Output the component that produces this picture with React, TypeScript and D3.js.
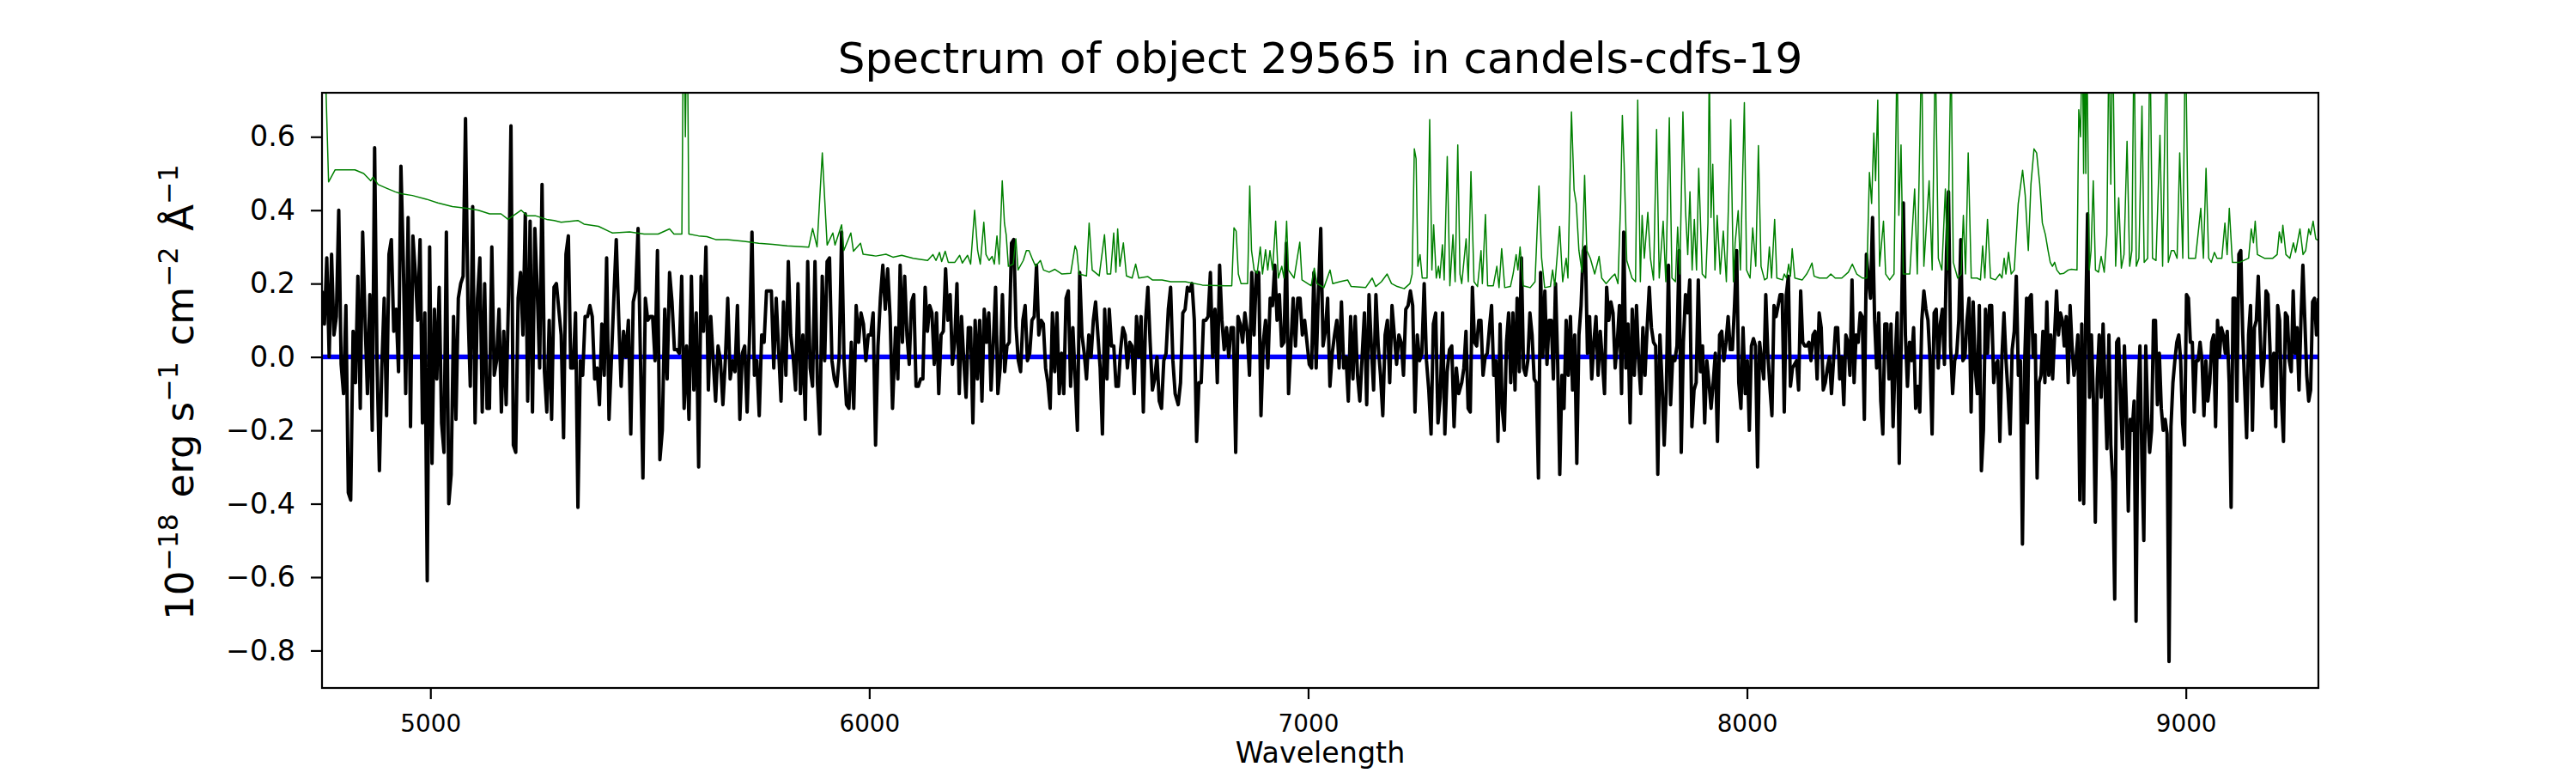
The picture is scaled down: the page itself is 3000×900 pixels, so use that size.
import * as d3 from 'd3';
import { useRef, useEffect } from 'react';

type Pt = [number, number];

const fluxA = [0.18,0.09,0.27,0.00,0.28,0.06,0.11,0.40,-0.02,-0.10,0.14,-0.37,-0.39,0.07,-0.07,0.22,-0.14,0.34,0.10,-0.10,0.17,-0.20,0.57,-0.01,-0.31,-0.03,0.16,-0.16,0.28,0.32,0.07,0.13,-0.04,0.52,0.26,-0.10,0.38,-0.19,0.33,0.23,0.10,0.32,-0.18,0.12,-0.61,0.30,-0.29,0.13,-0.06,0.19,-0.18,-0.26,0.34,-0.40,-0.32,0.11,-0.17,0.16,0.20,0.22,0.65,0.14,-0.08,0.41,-0.18,0.16,0.27,-0.15,0.20,-0.14,-0.14,0.30,-0.05,-0.01,0.13,-0.15,0.07,-0.13,0.17,0.63,-0.24,-0.26,0.16,0.23,0.06,0.39,-0.12,0.37,-0.15,0.35,0.18,-0.03,0.47,-0.04,-0.15,0.10,-0.17,0.19,0.20,0.13,0.06,-0.22,0.28,0.33,-0.03,-0.03,0.12,-0.41,-0.01,-0.05,0.11,0.11,0.14,0.11,-0.06,-0.03,-0.13,0.09,-0.05,0.27,-0.17];
const fluxB = [0.16,0.32,0.11,-0.08,0.07,0.00,0.10,-0.21,0.15,0.18,0.35,-0.01,-0.33,0.16,0.10,0.11,0.11,-0.01,0.29,-0.28,-0.20,0.13,-0.06,0.23,0.15,0.02,0.02,0.01,0.22,-0.14,0.03,-0.17,0.22,-0.09,0.12,-0.30,0.22,0.07,0.30,-0.09,0.11,-0.01,-0.12,0.03,-0.01,-0.13,-0.01,0.16,-0.06,-0.01,-0.04,0.14,-0.17,0.01,0.03,-0.15,0.06,0.34,-0.05,-0.01,-0.16,0.06,0.04,0.18,0.18,0.18,-0.03,0.16,0.02,-0.12,0.15,-0.05,0.26,0.06,0.00,-0.09,0.20,-0.10,0.06,-0.17,0.26,-0.03,-0.08,0.26,-0.07,-0.21,0.22,-0.01,0.26,0.27,-0.01,-0.06,-0.08,0.00,0.34,-0.01,-0.13,-0.14,0.04,-0.14,0.14,0.04,0.12,0.09,-0.01,0.06,0.06,0.12,-0.24,0.03,0.16,0.25,0.13,0.24,0.11,-0.14];
const fluxC = [0.08,-0.06,0.25,0.04,0.22,0.06,-0.02,0.15,0.17,-0.08,-0.08,-0.06,-0.06,0.19,0.07,0.14,0.12,-0.02,0.12,-0.10,0.06,0.07,0.24,0.10,0.17,-0.02,0.04,0.20,-0.10,0.11,-0.01,-0.11,0.08,0.08,-0.18,0.10,-0.06,0.10,-0.12,0.13,0.04,0.12,-0.09,0.04,0.19,-0.10,-0.03,0.17,-0.04,0.03,0.04,0.31,0.32,0.08,-0.01,-0.04,0.10,0.14,-0.01,0.01,0.10,0.11,0.25,0.06,0.10,0.09,-0.03,-0.07,-0.14,0.12,-0.04,0.12,-0.10,0.01,-0.10,0.16,0.18,-0.08,0.08,-0.06,-0.20,0.23,0.06,0.01,-0.06,0.06,0.00,0.10,0.15,0.06,-0.03,-0.21,0.13,-0.06,0.13,0.03,0.03,-0.08,-0.08,0.02,0.08,0.06,-0.03,0.04,0.03,-0.10,0.11,0.00,0.11,-0.15,0.10,0.19,0.04,-0.09,-0.06,0.00,-0.12,-0.14,-0.01,0.01,0.13,0.19,-0.01,-0.10];
const fluxD = [-0.13,-0.07,0.12,0.13,0.19,0.18,0.20,0.10,-0.23,-0.07,-0.07,0.10,0.10,0.11,0.23,0.00,0.13,-0.07,0.25,0.10,0.02,0.08,0.00,0.08,0.08,-0.26,0.11,0.09,0.04,0.12,0.07,-0.05,0.23,0.06,0.23,0.23,-0.16,0.04,0.10,-0.03,0.16,0.14,0.25,0.10,0.17,0.03,0.04,0.31,-0.10,0.03,0.16,0.03,0.16,0.16,0.06,0.10,0.04,-0.02,-0.03,0.23,-0.03,0.18,0.35,0.03,0.07,0.16,-0.08,0.01,0.06,0.10,-0.03,0.15,-0.03,0.00,-0.12,0.11,-0.06,0.11,-0.05,-0.12,0.00,0.12,-0.13,0.17,0.03,-0.09,0.17,0.03,-0.05,-0.16,0.06,0.10,-0.07,0.14,0.06,-0.02,0.06,0.04,-0.05,0.13,0.14,0.18,0.14,-0.15,0.06,-0.01,0.01,0.20,-0.01,-0.09,-0.21,0.09,0.12,-0.18,-0.11,0.12,-0.21,-0.04,0.02,0.03,-0.19,-0.03,-0.10];
const fluxE = [-0.07,-0.03,0.07,-0.14,-0.15,0.19,0.04,0.03,0.10,0.10,-0.05,0.00,0.01,0.08,0.14,-0.05,-0.01,-0.23,0.09,-0.14,-0.20,0.04,0.12,-0.07,0.12,-0.09,0.16,-0.04,0.27,-0.03,-0.05,-0.01,0.12,0.06,-0.06,-0.07,-0.33,0.23,0.00,0.18,-0.02,0.10,0.10,-0.06,0.20,-0.01,-0.32,-0.05,-0.14,0.10,-0.05,0.11,-0.09,0.06,-0.29,0.06,0.14,0.29,0.30,0.01,0.11,-0.06,0.04,0.11,-0.05,0.07,-0.01,-0.10,0.19,0.10,0.15,0.12,-0.03,0.04,0.14,-0.10,0.34,-0.03,0.09,-0.18,0.13,-0.05,0.14,-0.01,-0.10,0.08,-0.05,0.08,0.19,0.08,0.04,0.03,-0.32,0.06,-0.07,-0.24,-0.09,0.25,-0.13,0.00,-0.01,0.03,0.29,-0.26,0.04,0.17,0.12,0.21,-0.19,-0.09,-0.07,0.21,-0.04,0.03,-0.18,-0.01,-0.07,-0.14,-0.07,0.01,-0.23,0.06,0.07,-0.01,0.04,0.11,0.02,0.02,0.14,0.29,-0.07,-0.14,0.08];
const fluxF = [-0.10,-0.01,-0.20,0.03,0.05,0.03,-0.30,0.04,-0.01,-0.06,0.17,0.01,-0.08,-0.16,0.14,0.11,0.14,0.17,0.17,-0.15,0.17,0.22,-0.08,-0.03,-0.02,-0.01,-0.09,0.18,0.04,0.03,0.03,0.04,-0.01,0.06,0.07,-0.06,0.12,0.08,-0.09,-0.07,-0.03,0.00,-0.10,-0.01,0.08,0.08,-0.06,0.00,-0.13,0.06,0.04,-0.05,0.21,-0.07,0.06,0.04,0.12,0.11,-0.17,0.28,0.21,0.16,0.38,0.10,-0.03,0.12,-0.12,-0.21,0.09,0.09,-0.06,0.09,-0.19,-0.01,0.12,-0.29,0.06,0.42,0.06,-0.08,0.04,-0.01,0.08,-0.14,-0.08,-0.15,0.10,0.18,0.13,0.10,-0.01,-0.21,0.12,0.13,-0.03,0.09,0.13,-0.02,0.28,0.45,0.03,-0.10,-0.01,0.01,0.10,0.32,-0.01,0.00,0.10,0.16,-0.15,0.15,-0.03,-0.10,0.14,-0.31,-0.20,0.13,0.01,0.14,0.14,-0.07,-0.02,-0.01,-0.23,0.00,0.12,-0.01,-0.10,-0.21,0.02,0.07,0.22,-0.05,-0.01,-0.51,-0.03,0.16];
const fluxG = [-0.18,0.16,0.17,0.00,0.06,-0.33,-0.07,-0.05,0.07,-0.07,0.15,-0.05,0.06,-0.06,0.06,0.18,0.06,0.12,0.10,0.03,0.11,-0.07,0.14,0.03,-0.05,-0.01,0.06,-0.39,0.09,-0.40,0.09,0.39,-0.11,0.06,-0.11,-0.45,-0.06,0.06,-0.11,0.09,-0.08,-0.25,0.06,-0.24,-0.34,-0.66,0.04,0.05,-0.12,-0.25,0.03,-0.14,-0.42,-0.17,-0.20,-0.12,-0.72,-0.11,0.03,-0.28,-0.50,0.03,-0.16,-0.26,-0.20,0.10,0.10,-0.13,0.01,-0.14,-0.20,-0.17,-0.21,-0.83,-0.19,-0.07,-0.01,0.04,0.06,-0.01,-0.18,-0.24,0.17,0.16,0.04,0.04,-0.15,-0.01,-0.01,0.04,-0.01,-0.16,-0.01,-0.12,-0.07,0.04,0.06,-0.19,0.10,0.00,0.08,0.06,0.01,0.07,-0.07,-0.41,0.16,0.16,-0.12,0.28,0.29,0.06,-0.08,-0.22,0.06,0.14,-0.20,0.08,0.10,0.22,0.06,-0.08,-0.01,0.18,0.17,0.03,-0.14,0.01,-0.19,0.14,0.10,-0.12,-0.23,0.12,0.11,-0.01,-0.04,0.18,0.01,0.08,-0.09,0.10,0.25,0.10,-0.05,-0.12,-0.09,0.15,0.16,0.06,0.16];

const fluxSegments = [
    { start: 4753, end: 5407, values: fluxA },
    { start: 5418, end: 6053, values: fluxB },
    { start: 6060, end: 6697, values: fluxC },
    { start: 6704, end: 7343, values: fluxD },
    { start: 7350, end: 7991, values: fluxE },
    { start: 7996, end: 8637, values: fluxF },
    { start: 8639, end: 9302, values: fluxG },
];

// Noise spectrum (green), [wavelength, value]
const errA: Pt[] = [[4753,1.3],[4758,0.9],[4768,0.477],[4783,0.51],[4809,0.51],[4828,0.51],[4848,0.50],[4864,0.48],[4869,0.49],[4881,0.47],[4900,0.46],[4920,0.45],[4933,0.445],[4959,0.44],[4991,0.43],[5017,0.42],[5050,0.41],[5083,0.405],[5109,0.40],[5135,0.39],[5161,0.39],[5177,0.375],[5207,0.40],[5220,0.385],[5239,0.385],[5265,0.375],[5282,0.372],[5298,0.367],[5336,0.372],[5350,0.362],[5383,0.356],[5409,0.341]];
const errB: Pt[] = [[5415,0.338],[5454,0.341],[5487,0.335],[5519,0.335],[5545,0.349],[5555,0.335],[5573,0.335],[5577,1.0],[5581,0.6],[5585,1.0],[5589,0.335],[5611,0.33],[5630,0.328],[5650,0.32],[5676,0.32],[5715,0.315],[5748,0.31],[5780,0.307],[5813,0.303],[5862,0.299],[5871,0.35],[5881,0.30],[5893,0.556],[5898,0.44],[5904,0.305],[5917,0.338],[5922,0.305],[5937,0.36],[5942,0.29],[5958,0.338],[5964,0.288],[5980,0.31],[5986,0.28],[6015,0.275],[6038,0.28],[6054,0.272]];
const errC: Pt[] = [[6074,0.277],[6100,0.269],[6133,0.263],[6145,0.279],[6152,0.263],[6160,0.285],[6165,0.26],[6173,0.288],[6180,0.258],[6195,0.258],[6206,0.277],[6212,0.256],[6224,0.277],[6231,0.253],[6240,0.40],[6247,0.29],[6253,0.253],[6261,0.367],[6266,0.279],[6273,0.263],[6280,0.274],[6285,0.253],[6291,0.33],[6296,0.253],[6303,0.48],[6308,0.365],[6312,0.333],[6317,0.247],[6328,0.253],[6334,0.322],[6339,0.237],[6351,0.263],[6358,0.29],[6364,0.29],[6371,0.269],[6379,0.247],[6390,0.263],[6397,0.237],[6410,0.231],[6423,0.239],[6439,0.226],[6459,0.228],[6469,0.303],[6473,0.29],[6478,0.226],[6495,0.221],[6501,0.365],[6508,0.237],[6524,0.221],[6536,0.333],[6542,0.226],[6550,0.226],[6557,0.338],[6562,0.231],[6566,0.349],[6571,0.247],[6579,0.311],[6586,0.221],[6599,0.215],[6607,0.253],[6614,0.215],[6635,0.219],[6645,0.21],[6667,0.21],[6687,0.205]];
const errD: Pt[] = [[6720,0.205],[6759,0.196],[6811,0.194],[6826,0.194],[6831,0.352],[6836,0.343],[6841,0.226],[6847,0.20],[6862,0.20],[6867,0.466],[6871,0.29],[6877,0.237],[6884,0.228],[6891,0.30],[6896,0.226],[6903,0.292],[6908,0.237],[6913,0.29],[6919,0.237],[6926,0.37],[6932,0.215],[6940,0.247],[6945,0.215],[6951,0.37],[6955,0.237],[6968,0.215],[6981,0.313],[6986,0.21],[7007,0.194],[7014,0.242],[7020,0.20],[7036,0.189],[7050,0.237],[7056,0.20],[7072,0.205],[7090,0.21],[7098,0.192],[7131,0.189],[7146,0.215],[7154,0.192],[7167,0.205],[7180,0.226],[7190,0.20],[7203,0.192],[7219,0.186],[7232,0.20],[7237,0.226],[7242,0.567],[7246,0.54],[7250,0.247],[7255,0.279],[7260,0.215],[7271,0.215],[7277,0.647],[7282,0.237],[7286,0.36],[7292,0.215],[7297,0.247],[7300,0.215],[7306,0.306],[7310,0.21],[7317,0.546],[7323,0.194],[7330,0.333],[7335,0.205],[7341,0.578],[7346,0.226]];
const errE: Pt[] = [[7350,0.20],[7360,0.322],[7365,0.205],[7371,0.505],[7378,0.205],[7386,0.192],[7394,0.29],[7397,0.20],[7404,0.388],[7409,0.194],[7422,0.194],[7430,0.247],[7435,0.189],[7441,0.295],[7448,0.189],[7461,0.192],[7467,0.226],[7474,0.279],[7478,0.237],[7483,0.30],[7490,0.194],[7506,0.189],[7517,0.205],[7526,0.466],[7532,0.269],[7539,0.189],[7552,0.192],[7557,0.237],[7562,0.194],[7573,0.356],[7580,0.205],[7588,0.269],[7592,0.215],[7600,0.668],[7606,0.455],[7611,0.418],[7617,0.29],[7624,0.231],[7630,0.495],[7635,0.29],[7643,0.269],[7653,0.226],[7663,0.274],[7669,0.215],[7679,0.20],[7691,0.217],[7699,0.226],[7706,0.20],[7712,0.418],[7716,0.658],[7720,0.525],[7726,0.263],[7738,0.215],[7746,0.205],[7751,0.70],[7757,0.205],[7761,0.386],[7766,0.269],[7774,0.394],[7780,0.269],[7787,0.21],[7794,0.62],[7800,0.215],[7809,0.37],[7815,0.205],[7823,0.652],[7829,0.215],[7837,0.205],[7842,0.354],[7847,0.226],[7854,0.668],[7860,0.397],[7865,0.279],[7870,0.45],[7875,0.237],[7880,0.375],[7885,0.237],[7890,0.514],[7898,0.226],[7906,0.215],[7911,0.365],[7914,0.80],[7918,0.38],[7922,0.525],[7927,0.237],[7932,0.386],[7939,0.226],[7946,0.343],[7953,0.205],[7963,0.647],[7969,0.205]];
const errF: Pt[] = [[7973,0.311],[7980,0.399],[7985,0.237],[7994,0.693],[7999,0.237],[8007,0.215],[8013,0.352],[8020,0.247],[8026,0.576],[8032,0.247],[8040,0.21],[8046,0.215],[8051,0.30],[8056,0.215],[8063,0.375],[8068,0.215],[8081,0.21],[8085,0.226],[8090,0.215],[8095,0.253],[8099,0.22],[8103,0.295],[8109,0.215],[8126,0.21],[8136,0.226],[8143,0.242],[8148,0.256],[8153,0.22],[8165,0.215],[8182,0.215],[8191,0.226],[8201,0.215],[8216,0.215],[8231,0.231],[8240,0.253],[8250,0.226],[8263,0.215],[8273,0.215],[8279,0.503],[8284,0.418],[8289,0.61],[8293,0.48],[8298,0.70],[8302,0.247],[8311,0.37],[8316,0.226],[8325,0.21],[8335,0.226],[8342,0.85],[8346,0.386],[8351,0.578],[8356,0.226],[8371,0.226],[8382,0.458],[8388,0.226],[8398,0.85],[8403,0.247],[8415,0.48],[8422,0.237],[8429,0.85],[8436,0.269],[8444,0.237],[8452,0.458],[8457,0.237],[8465,0.85],[8470,0.258],[8480,0.215],[8488,0.226],[8493,0.386],[8498,0.226],[8504,0.556],[8511,0.215],[8524,0.215],[8532,0.21],[8537,0.303],[8542,0.215],[8548,0.375],[8555,0.215],[8566,0.21],[8576,0.226],[8581,0.215],[8586,0.269],[8590,0.226],[8596,0.285],[8602,0.226],[8609,0.237],[8618,0.418],[8628,0.509]];
const errG: Pt[] = [[8634,0.44],[8641,0.29],[8647,0.471],[8654,0.567],[8660,0.556],[8667,0.471],[8673,0.365],[8680,0.333],[8686,0.29],[8691,0.258],[8696,0.247],[8701,0.258],[8706,0.237],[8713,0.226],[8722,0.228],[8732,0.237],[8739,0.239],[8752,0.237],[8756,0.674],[8760,0.60],[8764,0.9],[8767,0.5],[8769,0.9],[8772,0.5],[8774,0.9],[8780,0.237],[8784,0.29],[8789,0.48],[8794,0.237],[8801,0.231],[8807,0.274],[8814,0.231],[8820,0.333],[8825,0.9],[8829,0.471],[8833,0.9],[8840,0.247],[8847,0.434],[8853,0.242],[8859,0.279],[8866,0.588],[8872,0.247],[8877,0.29],[8882,0.9],[8887,0.247],[8893,0.269],[8900,0.684],[8905,0.258],[8913,0.269],[8918,0.9],[8924,0.269],[8932,0.263],[8941,0.604],[8947,0.247],[8956,0.9],[8960,0.258],[8967,0.29],[8973,0.29],[8980,0.269],[8986,0.556],[8993,0.269],[8999,0.9],[9006,0.269],[9022,0.269],[9034,0.405],[9040,0.269],[9046,0.514],[9052,0.269],[9058,0.258],[9065,0.285],[9071,0.269],[9082,0.269],[9089,0.365],[9094,0.279],[9099,0.405],[9106,0.258],[9123,0.258],[9143,0.269],[9149,0.349],[9154,0.311],[9158,0.37],[9163,0.279],[9179,0.269],[9198,0.269],[9208,0.279],[9213,0.341],[9218,0.311],[9221,0.359],[9228,0.279],[9237,0.269],[9245,0.311],[9250,0.285],[9260,0.349],[9267,0.279],[9273,0.29],[9280,0.349],[9284,0.333],[9290,0.37],[9296,0.322],[9302,0.317]];

// Model / contamination (blue), flat at zero
const modelFlux: Pt[] = [[4753, 0], [9302, 0]];

const xTicks = [5000, 6000, 7000, 8000, 9000];
const yTicks = [-0.8, -0.6, -0.4, -0.2, 0, 0.2, 0.4, 0.6];
const title = 'Spectrum of object 29565 in candels-cdfs-19';

const FONT = '"DejaVu Sans", "Liberation Sans", sans-serif';

export default function App() {
    const svgRef = useRef<SVGSVGElement>(null);

    useEffect(() => {
        if (!svgRef.current) return;
        const svg = d3.select(svgRef.current);
        svg.selectAll('*').remove();

        const W = 3000, H = 900;
        const margin = { top: 108, right: 300, bottom: 99, left: 375 };
        const width = W - margin.left - margin.right;
        const height = H - margin.top - margin.bottom;

        const fluxPoints: Pt[] = fluxSegments.flatMap(s =>
            s.values.map((v, i) => [s.start + (s.end - s.start) * i / (s.values.length - 1), v] as Pt));
        const errorSpectrum: Pt[] = [...errA, ...errB, ...errC, ...errD, ...errE, ...errF, ...errG];

        const x = d3.scaleLinear()
            .domain(d3.extent(fluxPoints, d => d[0]) as [number, number])
            .range([0, width]);
        const y = d3.scaleLinear().domain([-0.902, 0.72]).range([height, 0]);

        svg.append('rect').attr('width', W).attr('height', H).attr('fill', '#fff');

        const g = svg.append('g').attr('transform', `translate(${margin.left},${margin.top})`);

        g.append('clipPath').attr('id', 'plot-clip')
            .append('rect').attr('width', width).attr('height', height);

        const plot = g.append('g').attr('clip-path', 'url(#plot-clip)');
        const line = d3.line<Pt>().x(d => x(d[0])).y(d => y(d[1]));

        plot.append('path').datum(modelFlux)
            .attr('d', line).attr('fill', 'none')
            .attr('stroke', '#0000ff').attr('stroke-width', 5.5);

        plot.append('path').datum(fluxPoints)
            .attr('d', line).attr('fill', 'none')
            .attr('stroke', '#000').attr('stroke-width', 4)
            .attr('stroke-linejoin', 'round');

        plot.append('path').datum(errorSpectrum)
            .attr('d', line).attr('fill', 'none')
            .attr('stroke', '#008000').attr('stroke-width', 1.5)
            .attr('stroke-linejoin', 'round');

        // Axes
        const xAxis = g.append('g')
            .attr('transform', `translate(0,${height})`)
            .call(d3.axisBottom(x).tickValues(xTicks).tickSize(13).tickSizeOuter(0).tickPadding(18)
                .tickFormat(d3.format('d')));
        xAxis.select('.domain').remove();
        xAxis.selectAll('line').attr('stroke-width', 2.2);
        xAxis.selectAll('text').attr('font-size', 27.8).attr('font-family', FONT);

        const yAxis = g.append('g')
            .call(d3.axisLeft(y).tickValues(yTicks).tickSize(13).tickSizeOuter(0).tickPadding(18)
                .tickFormat(d3.format('.1f')));
        yAxis.select('.domain').remove();
        yAxis.selectAll('line').attr('stroke-width', 2.2);
        yAxis.selectAll('text').attr('font-size', 33.3).attr('font-family', FONT);

        // Frame
        g.append('rect')
            .attr('width', width).attr('height', height)
            .attr('fill', 'none').attr('stroke', '#000').attr('stroke-width', 2.2);

        // Title and axis labels
        svg.append('text')
            .attr('x', margin.left + width / 2).attr('y', 85)
            .attr('text-anchor', 'middle').attr('font-family', FONT).attr('font-size', 50)
            .text(title);

        svg.append('text')
            .attr('x', margin.left + width / 2).attr('y', 888)
            .attr('text-anchor', 'middle').attr('font-family', FONT).attr('font-size', 33.3)
            .text('Wavelength');

        const yl = svg.append('text')
            .attr('transform', `translate(225,${margin.top + height / 2}) rotate(-90)`)
            .attr('text-anchor', 'middle').attr('font-family', FONT).attr('font-size', 45);
        const parts: [string, string][] = [['10', '−18'], [' erg s', '−1'], [' cm', '−2'], [' Å', '−1']];
        parts.forEach(([base, sup]) => {
            yl.append('tspan').text(base);
            yl.append('tspan').attr('dy', -18).attr('font-size', 31.5).text(sup);
            yl.append('tspan').attr('dy', 18).text('\u200a');
        });
    }, []);

    return (
        <svg ref={svgRef} width={3000} height={900}
            style={{ position: 'absolute', left: 0, top: 0, display: 'block' }} />
    );
}
